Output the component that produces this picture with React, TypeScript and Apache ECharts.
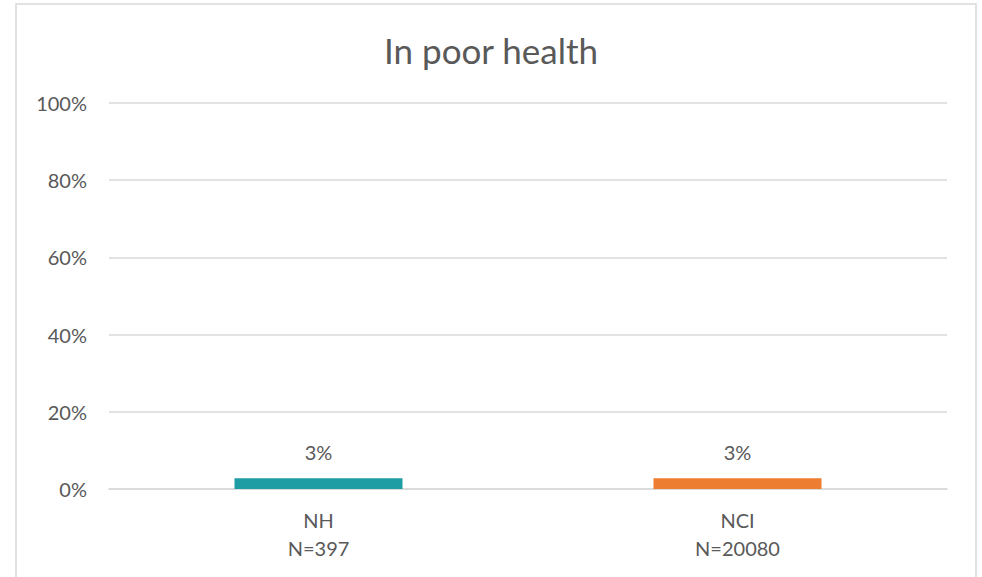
import React, { useEffect, useRef } from "react";
import * as echarts from "echarts";

const categories = ["NH\nN=397", "NCI\nN=20080"];
const values = [2.8, 2.8];
const barColors = ["#1F9DA5", "#ED7D31"];
const yTicks = [0, 20, 40, 60, 80, 100];
const titleText = "In poor health";

export default function App() {
  const ref = useRef<HTMLDivElement>(null);
  useEffect(() => {
    if (!ref.current) return;
    const chart = echarts.init(ref.current, null, { renderer: "svg" });
    const font = "Lato, 'Open Sans', sans-serif";
    chart.setOption({
      animation: false,
      backgroundColor: "#ffffff",
      title: {
        text: titleText,
        left: "center",
        top: 27,
        textStyle: { fontFamily: font, fontSize: 35, fontWeight: "normal", color: "#595959" },
      },
      graphic: [
        {
          type: "rect",
          shape: { x: 16, y: 4, width: 960, height: 620 },
          style: { fill: "none", stroke: "#D9D9D9", lineWidth: 1.5 },
          silent: true,
          z: -1,
        },
      ],
      grid: { left: 109, right: 35, top: 103, bottom: 88, containLabel: false },
      xAxis: {
        type: "category",
        data: categories,
        axisLine: { show: true, lineStyle: { color: "#D9D9D9", width: 1.5 } },
        axisTick: { show: false },
        axisLabel: {
          fontFamily: font,
          fontSize: 20,
          color: "#595959",
          lineHeight: 28,
          margin: 17,
        },
      },
      yAxis: {
        type: "value",
        min: yTicks[0],
        max: yTicks[yTicks.length - 1],
        interval: 20,
        axisLine: { show: false },
        axisTick: { show: false },
        splitLine: { lineStyle: { color: "#D9D9D9", width: 1.5 } },
        axisLabel: {
          fontFamily: font,
          fontSize: 20,
          color: "#595959",
          margin: 22,
          formatter: (v: number) => `${v}%`,
        },
      },
      series: [
        {
          type: "bar",
          data: values.map((v, i) => ({ value: v, itemStyle: { color: barColors[i] } })),
          barWidth: 168,
          label: {
            show: true,
            position: "top",
            distance: 16,
            fontFamily: font,
            fontSize: 20,
            color: "#595959",
            formatter: (p: any) => `${Math.round(p.value)}%`,
          },
        },
      ],
    });
    return () => chart.dispose();
  }, []);
  return (
    <div
      ref={ref}
      style={{ position: "absolute", left: 0, top: 0, width: 982, height: 577 }}
    />
  );
}
